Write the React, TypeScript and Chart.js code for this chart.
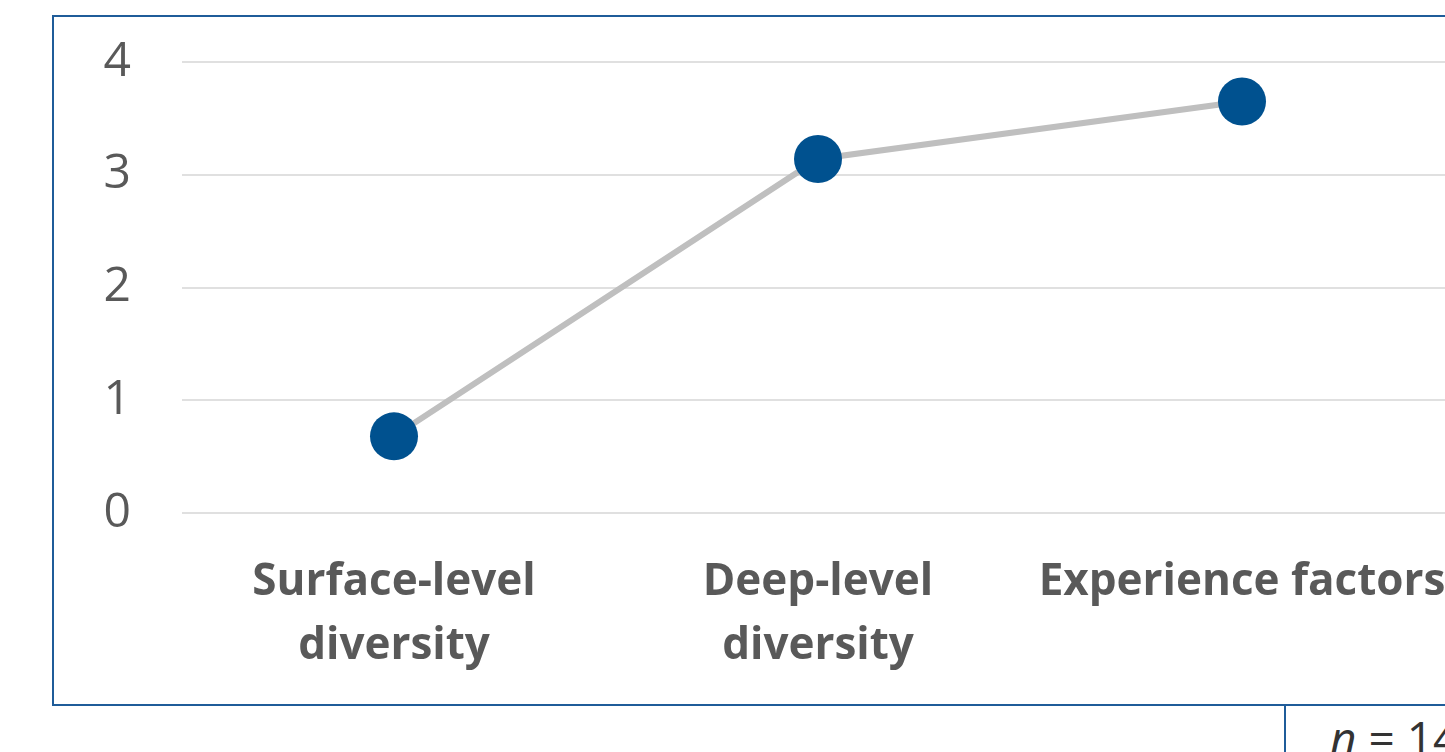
import React, { useEffect, useRef } from "react";
import { Chart, registerables } from "chart.js";

Chart.register(...registerables);

const categories: string[][] = [
  ["Surface-level", "diversity"],
  ["Deep-level", "diversity"],
  ["Experience factors"],
];
const values: number[] = [0.68, 3.14, 3.65];
const yTicks: number[] = [0, 1, 2, 3, 4];
const noteText = "= 14";

const FONT = "'Open Sans', 'Liberation Sans', sans-serif";

export default function App() {
  const ref = useRef<HTMLCanvasElement | null>(null);

  useEffect(() => {
    if (!ref.current) return;
    const chart = new Chart(ref.current, {
      type: "line",
      data: {
        labels: categories,
        datasets: [
          {
            data: values,
            borderColor: "#BFBFBF",
            borderWidth: 6,
            backgroundColor: "#00518F",
            pointBackgroundColor: "#00518F",
            pointBorderWidth: 0,
            pointRadius: 24,
            pointHoverRadius: 24,
            tension: 0,
          },
        ],
      },
      options: {
        responsive: false,
        animation: false,
        layout: { padding: { left: 0, right: 46, top: 62, bottom: 0 } },
        plugins: { legend: { display: false }, tooltip: { enabled: false } },
        scales: {
          x: {
            type: "category",
            offset: true,
            grid: { display: false, drawTicks: false },
            border: { display: false },
            ticks: {
              color: "#595959",
              padding: 37,
              maxRotation: 0,
              autoSkip: false,
              font: { family: FONT, size: 44, weight: "bold", lineHeight: 64 / 44 },
            },
            afterFit: (s: any) => {
              s.height = 239;
            },
          },
          y: {
            min: 0,
            max: 4,
            afterBuildTicks: (s: any) => {
              s.ticks = yTicks.map((v) => ({ value: v }));
            },
            grid: { color: "#E0E0E0", lineWidth: 2, drawTicks: false },
            border: { display: false },
            ticks: {
              color: "#595959",
              padding: 51,
              font: { family: FONT, size: 48, lineHeight: 0.2 },
            },
            afterFit: (s: any) => {
              s.width = 182;
            },
          },
        },
      },
    });
    return () => chart.destroy();
  }, []);

  return (
    <div
      style={{
        position: "fixed",
        left: 0,
        top: 0,
        width: 1445,
        height: 752,
        overflow: "hidden",
        background: "#fff",
      }}
    >
      <div
        style={{
          position: "absolute",
          left: 52,
          top: 15,
          width: 1480,
          height: 691,
          border: "2px solid #1F5C99",
          boxSizing: "border-box",
        }}
      />
      <div
        style={{
          position: "absolute",
          left: 1284,
          top: 704,
          width: 300,
          height: 120,
          border: "2px solid #1F5C99",
          boxSizing: "border-box",
          fontFamily: FONT,
          fontSize: 46,
          color: "#333333",
          paddingLeft: 44,
          paddingTop: 3,
          lineHeight: "56px",
          whiteSpace: "nowrap",
        }}
      >
        <i>n</i> {noteText}
      </div>
      <canvas
        ref={ref}
        width={1500}
        height={752}
        style={{ position: "absolute", left: 0, top: 0, display: "block" }}
      />
    </div>
  );
}
